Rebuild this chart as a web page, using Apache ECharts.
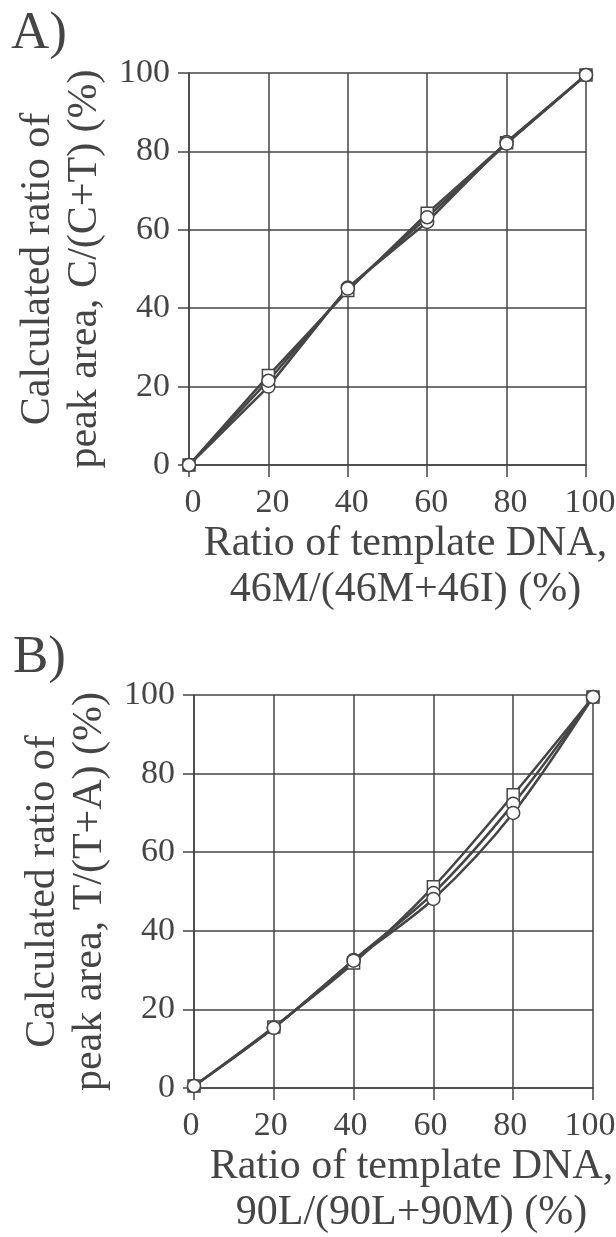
<!DOCTYPE html>
<html>
<head>
    <meta charset="utf-8">
    <title>template ratio</title>
    <script src="https://cdn.jsdelivr.net/npm/echarts@6.0.0/dist/echarts.min.js"></script>
    <style>
        body { margin: 0; background: #fff; }
        #chart { width: 616px; height: 1237px; }
    </style>
</head>
<body>
<div id="chart"></div>
<script>
    // x values (template ratio, %)
    var xTicks = [0, 20, 40, 60, 80, 100];

    // panel A: C/(C+T)
    var aSquare  = [0, 22.8, 44.5, 64.2, 82.2, 99.5];
    var aCircle1 = [0, 20.0, 45.3, 62.0, 82.4, 99.5];
    var aCircle2 = [0, 21.5, 45.0, 63.2, 82.0, 99.5];

    // panel B: T/(T+A)
    var bSquare  = [0.5, 15.5, 31.8, 51.2, 74.6, 99.5];
    var bCircle1 = [0.5, 15.3, 32.6, 49.6, 72.3, 99.5];
    var bCircle2 = [0.5, 15.3, 32.4, 48.1, 70.0, 99.5];

    var ink = '#454545';
    var font = 'Liberation Serif';

    function pairs(vals) {
        return xTicks.map(function (x, i) { return [x, vals[i]]; });
    }

    function xAxisOf(idx, name, labelPad) {
        return {
            gridIndex: idx, type: 'value', min: 0, max: 100, interval: 20,
            name: name, nameLocation: 'middle', nameGap: 48,
            nameTextStyle: { fontFamily: font, fontSize: 42, color: ink, lineHeight: 46, padding: [0, 0, 0, 36] },
            axisLine: { lineStyle: { color: ink, width: 1.5 } },
            axisTick: { show: true, length: 12, lineStyle: { color: ink, width: 1.5 } },
            axisLabel: { fontFamily: font, fontSize: 34, color: ink, margin: 21, padding: labelPad },
            splitLine: { show: true, lineStyle: { color: ink, width: 1.5 } }
        };
    }

    function yAxisOf(idx, name) {
        return {
            gridIndex: idx, type: 'value', min: 0, max: 100, interval: 20,
            name: name, nameLocation: 'middle', nameGap: 75,
            nameTextStyle: { fontFamily: font, fontSize: 42, color: ink, lineHeight: 47 },
            axisLine: { lineStyle: { color: ink, width: 1.5 } },
            axisTick: { show: true, length: 11, lineStyle: { color: ink, width: 1.5 } },
            axisLabel: { fontFamily: font, fontSize: 34, color: ink, margin: 19 },
            splitLine: { show: true, lineStyle: { color: ink, width: 1.5 } }
        };
    }

    function seriesOf(idx, name, vals, symbol, smooth) {
        return {
            type: 'line', name: name, xAxisIndex: idx, yAxisIndex: idx,
            data: pairs(vals), smooth: smooth,
            symbol: symbol, symbolSize: symbol === 'rect' ? 12 : 13,
            lineStyle: { color: ink, width: 2.5 },
            itemStyle: { color: '#fff', borderColor: ink, borderWidth: 1.5 }
        };
    }

    var chart = echarts.init(document.getElementById('chart'));
    chart.setOption({
        animation: false,
        backgroundColor: '#fff',
        title: [
            { text: 'A)', left: 6, top: 3, textStyle: { fontFamily: font, fontSize: 53, fontWeight: 'normal', color: ink } },
            { text: 'B)', left: 8, top: 627, textStyle: { fontFamily: font, fontSize: 53, fontWeight: 'normal', color: ink } }
        ],
        grid: [
            { left: 189, top: 73, width: 397, height: 392, containLabel: false, outerBoundsMode: 'none' },
            { left: 194, top: 695, width: 399, height: 393, containLabel: false, outerBoundsMode: 'none' }
        ],
        xAxis: [
            xAxisOf(0, 'Ratio of template DNA,\n46M/(46M+46I) (%)', [0, 0, 0, 8]),
            xAxisOf(1, 'Ratio of template DNA,\n90L/(90L+90M) (%)', [0, 6, 0, 0])
        ],
        yAxis: [
            yAxisOf(0, 'Calculated ratio of\npeak area, C/(C+T) (%)'),
            yAxisOf(1, 'Calculated ratio of\npeak area, T/(T+A) (%)')
        ],
        series: [
            seriesOf(0, 'A square', aSquare, 'rect', false),
            seriesOf(0, 'A circle 1', aCircle1, 'circle', false),
            seriesOf(0, 'A circle 2', aCircle2, 'circle', false),
            seriesOf(1, 'B square', bSquare, 'rect', 0.3),
            seriesOf(1, 'B circle 1', bCircle1, 'circle', 0.3),
            seriesOf(1, 'B circle 2', bCircle2, 'circle', 0.3)
        ]
    });
</script>
</body>
</html>
